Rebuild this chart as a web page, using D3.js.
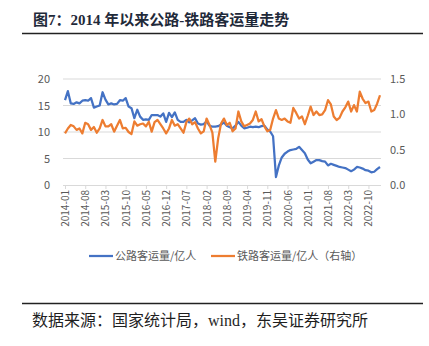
<!DOCTYPE html>
<html><head><meta charset="utf-8">
<script src="https://cdn.jsdelivr.net/npm/d3@7"></script>
<style>
html,body{margin:0;padding:0;background:#fff;}
svg{display:block;}
</style></head>
<body>
<script>
// months 2014-01 .. 2023-02
const months = d3.timeMonth.range(new Date(2014,0,1), new Date(2023,2,1)).map(d3.timeFormat("%Y-%m"));
const tickLabels = ["2014-01","2014-08","2015-03","2015-10","2016-05","2016-12","2017-07","2018-02","2018-09","2019-04","2019-11","2020-06","2021-01","2021-08","2022-03","2022-10"];
const roadLabel = "公路客运量/亿人";
const railLabel = "铁路客运量/亿人（右轴）";
const leftTicks = [0,5,10,15,20];
const rightTicks = [0.0,0.5,1.0,1.5];
// 公路客运量（亿人）
const road = [16.0,17.7,15.4,15.3,15.6,15.4,15.9,16.0,15.9,16.4,14.6,14.8,
15.0,17.5,16.1,15.2,15.4,15.2,15.3,16.0,15.9,16.4,14.8,14.5,
12.6,14.2,12.9,12.3,12.4,12.3,13.2,13.2,13.2,12.9,13.5,11.9,
13.6,12.8,13.7,12.3,11.9,11.9,12.3,11.8,12.2,12.6,11.6,11.4,
11.5,12.0,11.2,11.0,11.0,11.1,11.4,11.8,11.2,10.9,10.7,11.2,
11.9,11.2,10.7,10.8,11.0,10.9,11.0,10.9,11.1,11.2,10.5,10.1,
9.2,1.5,3.7,5.2,5.9,6.3,6.6,6.7,6.8,7.2,6.6,6.0,
4.8,4.1,4.4,4.7,4.7,4.5,4.4,3.7,4.0,3.8,3.6,3.4,
3.3,3.2,2.9,2.6,2.9,3.4,3.3,3.1,2.8,2.7,2.4,2.5,
3.0,3.4];
// 铁路客运量（亿人，右轴）
const rail = [0.73,0.80,0.85,0.83,0.78,0.80,0.73,0.88,0.86,0.78,0.82,0.74,
0.80,0.92,0.83,0.83,0.86,0.755,0.84,0.92,0.80,0.81,0.75,0.72,
0.90,0.84,0.86,0.87,0.83,0.895,0.755,0.89,0.92,0.86,0.80,0.73,
0.80,0.92,0.84,0.86,0.80,0.74,0.89,0.94,0.86,0.89,0.80,0.73,
0.76,0.94,0.85,0.74,0.33,0.66,0.87,0.94,0.85,0.88,0.76,0.80,
1.04,0.90,0.83,0.85,0.87,0.92,1.04,0.90,0.93,0.83,0.76,0.78,
0.94,1.06,0.94,0.92,0.94,0.90,0.88,1.09,1.02,0.94,0.97,0.86,
0.98,1.11,0.99,1.04,0.99,1.00,1.06,1.20,1.14,0.97,0.92,0.95,
1.04,1.10,1.18,1.04,1.13,1.04,1.32,1.22,1.16,1.18,1.04,1.06,
1.15,1.27];

const W=429,H=346;
const svg=d3.select("body").append("svg").attr("width",W).attr("height",H);
const serif="'Liberation Serif','Noto Sans CJK SC',serif";
const sans="'Noto Sans CJK SC','Liberation Sans',sans-serif";

// title
svg.append("text").attr("x",33).attr("y",25).attr("font-family",serif).attr("font-weight","bold")
  .attr("font-size",15).attr("fill","#1f2a3a").text("图7：2014 年以来公路-铁路客运量走势");
svg.append("line").attr("x1",22).attr("x2",423).attr("y1",33.5).attr("y2",33.5).attr("stroke","#222").attr("stroke-width",1.5);

const x=d3.scalePoint().domain(months).range([65,380]);
const yL=d3.scaleLinear().domain([0,20]).range([185,79]);
const yR=d3.scaleLinear().domain([0,1.5]).range([185,79]);

// grid
svg.append("g").selectAll("line").data(leftTicks.filter(d=>d>0)).join("line")
  .attr("x1",63).attr("x2",381).attr("y1",d=>yL(d)).attr("y2",d=>yL(d))
  .attr("stroke","#d9d9d9").attr("stroke-width",1);

// left axis
const gL=svg.append("g").attr("transform","translate(63,0)")
  .call(d3.axisLeft(yL).tickValues(leftTicks).tickSize(0).tickPadding(13));
gL.select(".domain").remove();
gL.selectAll("text").attr("font-family",sans).attr("font-size",11).attr("fill","#595959");
// right axis
const gR=svg.append("g").attr("transform","translate(381,0)")
  .call(d3.axisRight(yR).tickValues(rightTicks).tickFormat(d3.format(".1f")).tickSize(0).tickPadding(9));
gR.select(".domain").remove();
gR.selectAll("text").attr("font-family",sans).attr("font-size",11).attr("fill","#595959");

// x axis
const gX=svg.append("g").attr("transform","translate(0,185)")
  .call(d3.axisBottom(x).tickValues(tickLabels).tickSize(4).tickPadding(3));
gX.select(".domain").attr("d","M63,0.5H381").attr("stroke","#d9d9d9");
gX.selectAll(".tick line").attr("stroke","#d9d9d9");
gX.selectAll("text").attr("font-family",sans).attr("font-size",10).attr("fill","#595959")
  .attr("transform","rotate(-90)").attr("text-anchor","end")
  .attr("y",0).attr("x",-5).attr("dy","0.35em");

// lines
svg.append("path").datum(road).attr("fill","none").attr("stroke","#4472C4").attr("stroke-width",2.25)
  .attr("stroke-linejoin","round")
  .attr("d",d3.line().x((d,i)=>x(months[i])).y(d=>yL(d)));
svg.append("path").datum(rail).attr("fill","none").attr("stroke","#ED7D31").attr("stroke-width",2.25)
  .attr("stroke-linejoin","round")
  .attr("d",d3.line().x((d,i)=>x(months[i])).y(d=>yR(d)));

// legend
const lg=svg.append("g").attr("font-family",sans).attr("font-size",11).attr("fill","#595959");
lg.append("line").attr("x1",89).attr("x2",113).attr("y1",256).attr("y2",256).attr("stroke","#4472C4").attr("stroke-width",2.25);
lg.append("text").attr("x",115).attr("y",260).text(roadLabel);
lg.append("line").attr("x1",211).attr("x2",235).attr("y1",256).attr("y2",256).attr("stroke","#ED7D31").attr("stroke-width",2.25);
lg.append("text").attr("x",237).attr("y",260).text(railLabel);

// footer
svg.append("line").attr("x1",22).attr("x2",423).attr("y1",303.5).attr("y2",303.5).attr("stroke","#222").attr("stroke-width",1.5);
svg.append("text").attr("x",32).attr("y",326).attr("font-family",serif).attr("font-size",16)
  .attr("fill","#1f1f1f").text("数据来源：国家统计局，wind，东吴证券研究所");
</script>
</body></html>
